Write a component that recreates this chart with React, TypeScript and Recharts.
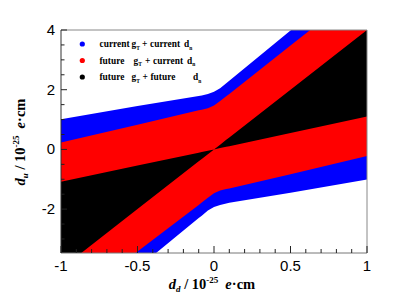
import { ComposedChart, Area, XAxis, YAxis, Legend } from "recharts"

// d_d sample points (10^-25 e cm)
const dd = [-1, -0.5, -0.1, -0.08, -0.04, 0, 0.04, 0.08, 0.1, 0.5, 1]

// upper / lower edge of each allowed d_u region
const blueHi = [1.01, 1.45, 1.79, 1.81, 1.86, 1.93, 2.05, 2.22, 2.3, 3.98, 6.08]
const blueLo = [-6.08, -3.98, -2.3, -2.22, -2.05, -1.93, -1.86, -1.81, -1.79, -1.45, -1.01]
const redHi = [0.23, 0.83, 1.31, 1.33, 1.38, 1.47, 1.62, 1.78, 1.86, 3.48, 5.5]
const redLo = [-5.4, -3.42, -1.86, -1.78, -1.62, -1.47, -1.38, -1.33, -1.31, -0.83, -0.22]
const blackHi = [-1.08, -0.54, -0.11, -0.087, -0.044, 0, 0.16, 0.32, 0.4, 2.0, 4.0]
const blackLo = [-4.0, -2.0, -0.4, -0.32, -0.16, 0, 0.044, 0.088, 0.11, 0.55, 1.1]

const xTicks = [-1, -0.9, -0.8, -0.7, -0.6, -0.5, -0.4, -0.3, -0.2, -0.1, 0, 0.1, 0.2, 0.3, 0.4, 0.5, 0.6, 0.7, 0.8, 0.9, 1]
const xMajor = [-1, -0.5, 0, 0.5, 1]
const yTicks = [-3, -2.5, -2, -1.5, -1, -0.5, 0, 0.5, 1, 1.5, 2, 2.5, 3, 3.5, 4]
const yMajor = [-2, 0, 2, 4]

const legendWord1 = ["current", "future", "future"]
const legendWord2 = ["current", "current", "future"]
const legendColors = ["#0000ff", "#ff0000", "#000000"]

const rows = dd.map((x, i) => ({
  x,
  blue: [blueLo[i], blueHi[i]],
  red: [redLo[i], redHi[i]],
  black: [blackLo[i], blackHi[i]],
}))

const tickFont = { fontFamily: "Liberation Sans, Arial, sans-serif", fontSize: 15, fill: "#000" }
const titleFont = { fontFamily: "Liberation Serif, Times New Roman, serif", fontSize: 14.5, fontWeight: 700, fill: "#000" }
const isMajor = (list: number[], v: number) => list.some(m => Math.abs(m - v) < 1e-9)

// plot frame edges, used for the inward tick marks
const PLOT_BOTTOM = 253
const PLOT_LEFT = 61

const XTick = ({ x, payload }: any) => {
  const major = isMajor(xMajor, payload.value)
  const y = PLOT_BOTTOM
  return (
    <g>
      <line x1={x} x2={x} y1={y} y2={y - (major ? 7 : 4)} stroke="#222" />
      {major && (
        <text x={x} y={y + 18} textAnchor="middle" style={tickFont}>{String(payload.value)}</text>
      )}
    </g>
  )
}

const YTick = ({ y, payload }: any) => {
  const major = isMajor(yMajor, payload.value)
  const x = PLOT_LEFT
  return (
    <g>
      <line x1={x} x2={x + (major ? 6 : 3.5)} y1={y} y2={y} stroke="#222" />
      {major && (
        <text x={x - 6} y={y + 5} textAnchor="end" style={tickFont}>{String(payload.value)}</text>
      )}
    </g>
  )
}

const XTitle = () => (
  <text x={212} y={289} textAnchor="middle" style={titleFont}>
    <tspan fontStyle="italic">d</tspan>
    <tspan fontStyle="italic" fontSize={9} dy={3}>d</tspan>
    <tspan dy={-3}> / 10</tspan>
    <tspan fontSize={9} dy={-6}>-25</tspan>
    <tspan dy={6} dx={7} fontStyle="italic">e</tspan>
    <tspan>·cm</tspan>
  </text>
)

const YTitle = () => (
  <text x={25} y={142} transform="rotate(-90 25 142)" textAnchor="middle" style={titleFont}>
    <tspan fontStyle="italic">d</tspan>
    <tspan fontStyle="italic" fontSize={9} dy={3}>u</tspan>
    <tspan dy={-3}> / 10</tspan>
    <tspan fontSize={9} dy={-6}>-25</tspan>
    <tspan dy={6} dx={7} fontStyle="italic">e</tspan>
    <tspan>·cm</tspan>
  </text>
)

// column positions of the legend text (ROOT TLatex spacing)
const legendCols = [
  { g: 61.5, plus: 72, w2: 80, d: 114 },
  { g: 63.5, plus: 75, w2: 83, d: 117 },
  { g: 61.5, plus: 72.5, w2: 80.5, d: 123 },
]

const renderLegend = () => (
  <svg width={170} height={54} style={{ display: "block" }}>
    {legendWord1.map((w, i) => {
      const cy = 11 + i * 16.5
      const c = legendCols[i]
      const st = { fontFamily: "Liberation Serif, Times New Roman, serif", fontSize: 9.4, fontWeight: 700, fill: "#000" }
      return (
        <g key={i}>
          <circle cx={12.3} cy={cy} r={2.6} fill={legendColors[i]} />
          <text y={cy + 3} style={st}>
            <tspan x={29.5}>{w}</tspan>
            <tspan x={c.g}>g</tspan>
            <tspan fontSize={5.5} dy={2.5}>T</tspan>
            <tspan x={c.plus} dy={-2.5}>+</tspan>
            <tspan x={c.w2}>{legendWord2[i]}</tspan>
            <tspan x={c.d}>d</tspan>
            <tspan fontSize={5.5} dy={2.5}>n</tspan>
          </text>
        </g>
      )
    })}
  </svg>
)

export default function App() {
  return (
    <div style={{ position: "absolute", left: 0, top: 0, background: "#fff" }}>
      <ComposedChart width={407} height={299} data={rows} margin={{ top: 29, right: 39, bottom: 6, left: 6 }}>
        <XAxis
          type="number" dataKey="x" domain={[-1, 1]} ticks={xTicks} interval={0}
          tickLine={false} tick={<XTick />}
          axisLine={{ stroke: "#777" }} height={40} allowDataOverflow label={<XTitle />}
        />
        <XAxis xAxisId="top" orientation="top" type="number" domain={[-1, 1]} height={1} tick={false} tickLine={false} axisLine={{ stroke: "#888" }} />
        <YAxis
          type="number" domain={[-3.47, 4]} ticks={yTicks} interval={0}
          tickLine={false} tick={<YTick />}
          axisLine={{ stroke: "#333" }} width={55} allowDataOverflow label={<YTitle />}
        />
        <YAxis yAxisId="right" orientation="right" type="number" domain={[-3.47, 4]} width={1} tick={false} tickLine={false} axisLine={{ stroke: "#888" }} />
        <Area dataKey="blue" name="current gT + current dn" type="linear" fill="#0000ff" fillOpacity={1} stroke="none" isAnimationActive={false} activeDot={false} />
        <Area dataKey="red" name="future gT + current dn" type="linear" fill="#ff0000" fillOpacity={1} stroke="none" isAnimationActive={false} activeDot={false} />
        <Area dataKey="black" name="future gT + future dn" type="linear" fill="#000000" fillOpacity={1} stroke="none" isAnimationActive={false} activeDot={false} />
        <Legend
          layout="vertical" align="center" verticalAlign="middle"
          wrapperStyle={{ left: 70, top: 33, width: 170, height: 54 }}
          content={renderLegend}
        />
      </ComposedChart>
    </div>
  )
}
